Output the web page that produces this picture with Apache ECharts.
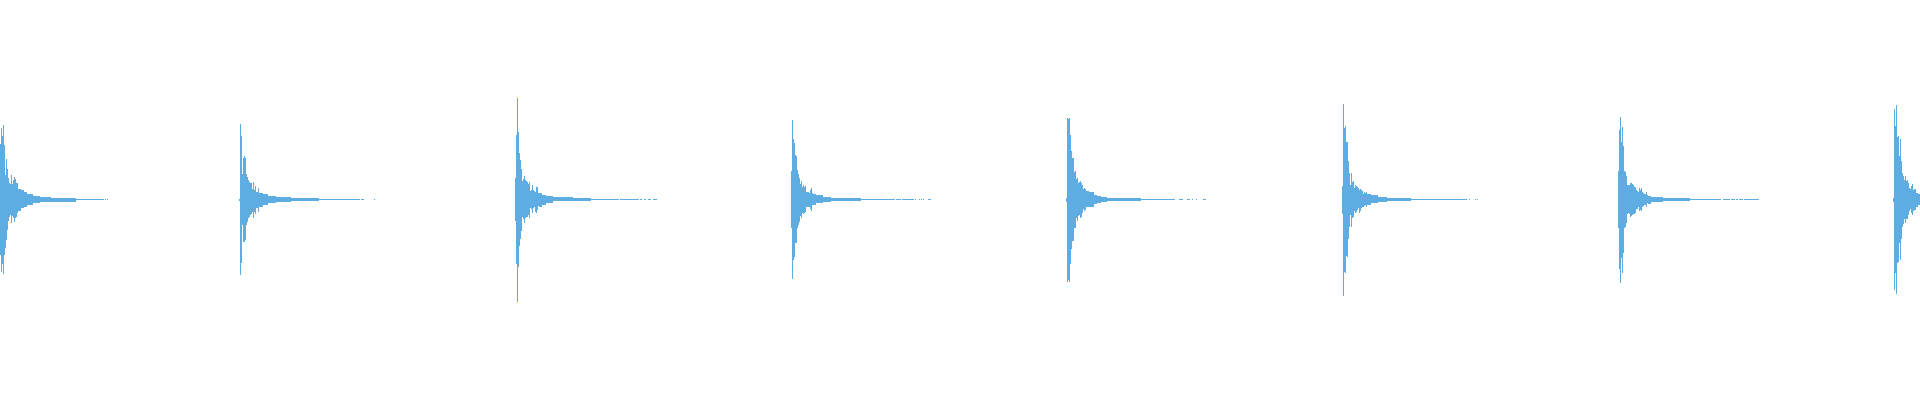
<!DOCTYPE html>
<html>
<head>
<meta charset="utf-8">
<script src="https://cdn.jsdelivr.net/npm/echarts@6/dist/echarts.min.js"></script>
<style>
  html, body { margin: 0; padding: 0; background: #fff; }
  #wave { width: 1920px; height: 400px; }
</style>
</head>
<body>
<div id="wave"></div>
<script>
// waveform envelope, one run = [columns, top, bottom] (amplitude units, +-200 full scale)
var burstStarts = [0, 239, 515, 791, 1066, 1342, 1618, 1893];

var burst1 = [[1,56,-55],[1,72,-72],[1,64,-64],[1,75,-74],[1,55,-55],[1,25,-48],[1,41,-40],[1,31,-30],[1,22,-21],[1,17,-17],[1,16,-15],[1,25,-23],[1,16,-16],[1,20,-18],[1,23,-22],[1,21,-18],[1,17,-17],[1,17,-13],[3,11,-11],[3,10,-8],[3,8,-7],[6,6,-5],[7,4,-3],[11,3,-2],[25,2,-2],[28,1,0],[1,0,0],[1,1,0],[1,0,0],[1,1,0]];
var burst2 = [[1,1,-1],[1,76,-75],[1,64,-63],[1,26,-25],[1,42,-42],[1,44,-42],[1,42,-40],[1,26,-25],[1,23,-22],[1,20,-18],[1,18,-17],[1,17,-15],[1,17,-14],[1,11,-12],[1,18,-18],[1,10,-12],[1,14,-14],[2,8,-8],[1,12,-12],[4,7,-7],[5,6,-5],[8,4,-3],[15,3,-2],[28,2,-1],[41,1,0],[1,0,0],[3,1,0],[10,0,0],[1,1,0]];
var burst3 = [[1,22,-21],[1,65,-64],[1,102,-102],[1,68,-67],[1,47,-46],[1,40,-39],[1,31,-31],[1,19,-17],[1,21,-19],[1,24,-23],[1,20,-18],[1,19,-17],[1,18,-17],[1,16,-15],[1,18,-18],[1,9,-8],[1,10,-9],[1,15,-13],[1,10,-8],[1,9,-7],[1,8,-12],[1,13,-13],[1,13,-10],[1,7,-6],[3,7,-7],[4,5,-5],[7,4,-3],[20,3,-1],[18,2,-1],[28,1,0],[1,0,0],[19,1,0],[1,0,0],[2,1,0],[2,0,0],[2,1,0],[2,0,0],[3,1,0],[2,0,0],[4,1,0]];
var burst4 = [[1,29,-28],[1,80,-79],[1,61,-60],[1,57,-57],[1,45,-43],[1,44,-43],[1,30,-28],[1,26,-25],[1,22,-22],[1,16,-16],[1,19,-18],[1,13,-13],[1,15,-14],[1,13,-13],[1,14,-12],[3,8,-7],[1,7,-7],[1,10,-9],[1,12,-11],[1,7,-5],[3,6,-5],[7,5,-3],[8,3,-2],[30,2,-1],[34,1,0],[1,0,0],[5,1,0],[1,0,0],[12,1,0],[1,0,0],[1,1,0],[3,0,0],[1,1,0],[1,0,0],[1,1,0],[1,0,0],[1,1,0],[4,0,0],[3,1,0]];
var burst5 = [[1,2,-2],[1,82,-82],[1,81,-80],[1,82,-82],[1,65,-64],[1,49,-49],[2,42,-41],[1,28,-28],[1,29,-28],[1,21,-18],[1,22,-21],[1,17,-16],[1,18,-15],[1,19,-18],[1,17,-17],[1,15,-13],[1,11,-9],[1,12,-11],[1,11,-10],[3,9,-7],[5,8,-7],[3,5,-4],[4,4,-3],[6,3,-2],[34,2,-1],[34,1,0],[4,0,0],[4,1,0],[4,0,0],[3,1,0],[2,0,0],[1,1,0],[3,0,0],[1,1,0],[6,0,0],[3,1,0]];
var burst6 = [[1,14,-14],[1,96,-96],[1,72,-72],[1,74,-73],[1,58,-56],[1,58,-57],[1,39,-39],[1,27,-27],[1,15,-15],[1,27,-27],[1,18,-18],[1,19,-17],[1,12,-11],[1,15,-13],[1,14,-12],[1,13,-10],[1,12,-8],[1,10,-13],[1,11,-11],[1,10,-8],[1,9,-7],[1,6,-7],[1,8,-6],[1,7,-5],[1,8,-7],[4,6,-5],[7,5,-3],[9,3,-2],[24,2,-1],[56,1,0],[2,0,0],[1,1,0],[5,0,0],[1,1,0],[1,0,0],[1,1,0]];
var burst7 = [[1,29,-28],[1,70,-69],[1,83,-83],[1,58,-58],[1,73,-73],[1,54,-53],[1,29,-28],[1,28,-27],[1,24,-23],[1,15,-14],[1,15,-13],[1,15,-14],[1,17,-17],[1,17,-16],[1,16,-15],[1,15,-14],[1,13,-14],[1,13,-13],[1,10,-9],[1,9,-9],[1,8,-7],[1,12,-11],[1,10,-10],[1,12,-11],[1,8,-7],[1,7,-6],[1,6,-5],[1,6,-5],[1,8,-7],[1,5,-3],[3,4,-4],[12,3,-2],[27,2,-1],[31,1,0],[2,0,0],[7,1,0],[1,0,0],[4,1,0],[1,0,0],[2,1,0],[1,0,0],[4,1,0],[1,0,0],[15,1,0]];
var burst8 = [[1,2,-2],[1,91,-90],[1,74,-73],[1,95,-94],[1,63,-63],[1,64,-62],[1,44,-43],[1,61,-60],[1,39,-39],[1,27,-27],[1,24,-24],[1,20,-19],[1,24,-23],[1,19,-19],[1,20,-19],[1,17,-15],[1,12,-11],[1,11,-9],[1,14,-13],[1,16,-15],[1,10,-11],[2,11,-10],[2,7,-7],[2,6,-5]];

var bursts = [burst1, burst2, burst3, burst4, burst5, burst6, burst7, burst8];

// flatten runs into [x, bottom, top, width]
var segs = [];
bursts.forEach(function (runs, i) {
  var x = burstStarts[i];
  runs.forEach(function (r) {
    if (r[1] !== 0 || r[2] !== 0) {
      segs.push([x, r[2], r[1], r[0]]);
    }
    x += r[0];
  });
});

var myChart = echarts.init(document.getElementById('wave'));
var option = {
  animation: false,
  grid: { left: 0, right: 0, top: 0, bottom: 0 },
  xAxis: { type: 'value', min: 0, max: 1920, show: false },
  yAxis: { type: 'value', min: -200, max: 200, show: false },
  series: [
    {
      type: 'custom',
      encode: { x: 0, y: [1, 2] },
      renderItem: function (params, api) {
        var p1 = api.coord([api.value(0), api.value(2)]);
        var p2 = api.coord([api.value(0) + api.value(3), api.value(1)]);
        return {
          type: 'rect',
          shape: { x: p1[0], y: p1[1], width: p2[0] - p1[0], height: p2[1] - p1[1] },
          style: { fill: '#5dade2' }
        };
      },
      data: segs
    }
  ]
};
myChart.setOption(option);
</script>
</body>
</html>
